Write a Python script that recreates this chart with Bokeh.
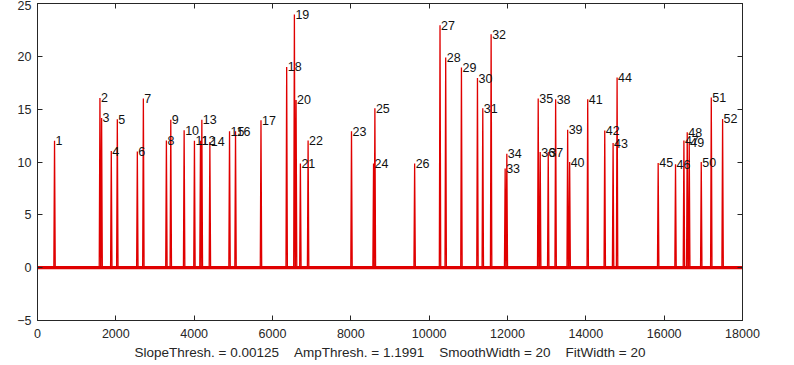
from bokeh.plotting import figure
from bokeh.models import LinearAxis, FixedTicker, Range1d, ColumnDataSource
from bokeh.embed import file_html
from bokeh.resources import INLINE
from bokeh.core.properties import value

# ---- data ----
peak_x = [435, 1594, 1637, 1884, 2038, 2549, 2703, 3291, 3403, 3744, 4007, 4161, 4196,
          4401, 4903, 5056, 5706, 6362, 6559, 6602, 6712, 6909, 8017, 8580, 8614, 9629,
          10277, 10422, 10824, 11233, 11369, 11582, 11940, 11983, 12784, 12835, 13040,
          13229, 13536, 13587, 14048, 14483, 14696, 14798, 15847, 16290, 16504, 16589,
          16640, 16947, 17203, 17492]
peak_h = [12.0, 16.06, 14.17, 11.04, 14.05, 11.0, 16.0, 12.04, 14.0, 13.0, 12.0, 12.0, 14.0,
          11.9, 12.9, 12.9, 13.95, 19.0, 23.96, 15.87, 9.85, 12.04, 12.92, 9.85, 15.08, 9.85,
          22.95, 19.88, 18.94, 17.94, 15.08, 22.08, 9.38, 10.79, 16.02, 10.94, 10.94,
          15.93, 13.05, 10.0, 15.93, 12.98, 11.79, 18.0, 9.91, 9.78, 12.04, 12.82,
          11.88, 10.0, 16.1, 14.08]
peak_labels = [str(i + 1) for i in range(len(peak_x))]
peak_halfwidth = 18
x_limits = [0, 18000]
y_limits = [-5, 25]
x_ticks = [0, 2000, 4000, 6000, 8000, 10000, 12000, 14000, 16000, 18000]
y_ticks = [-5, 0, 5, 10, 15, 20, 25]
slope_thresh = "0.00125"
amp_thresh = "1.1991"
smooth_width = "20"
fit_width = "20"

# trace built from the peak table
tx, ty = [x_limits[0]], [0]
for xc, h in zip(peak_x, peak_h):
    tx += [xc - peak_halfwidth, xc, xc + peak_halfwidth]
    ty += [0, h, 0]
tx.append(x_limits[1])
ty.append(0)

AX = "#262626"
RED = "#e00000"
FONT = "Liberation Sans"

p = figure(width=778, height=362, x_range=Range1d(*x_limits), y_range=Range1d(*y_limits),
           output_backend="svg", toolbar_location=None,
           min_border_left=37, min_border_right=36, min_border_top=3, min_border_bottom=41)
p.xgrid.visible = False
p.ygrid.visible = False
p.outline_line_color = AX
p.background_fill_color = "white"
p.border_fill_color = "white"

# baseline band and trace
p.line(x_limits, [0, 0], line_color=RED, line_width=3.2)
p.line(tx, ty, line_color=RED, line_width=1.3)

src = ColumnDataSource(dict(x=peak_x, y=peak_h, t=peak_labels))
p.text(x="x", y="y", text="t", source=src, text_font=value(FONT), text_font_size="12.5px",
       text_color="#111111", text_baseline="middle", text_align="left", x_offset=1, y_offset=0)

sep = "\u00a0\u00a0\u00a0\u00a0"
xlabel = (f"SlopeThresh. = {slope_thresh}{sep}AmpThresh. = {amp_thresh}{sep}"
          f"SmoothWidth = {smooth_width}{sep}FitWidth = {fit_width}")


def style(ax, ticks):
    ax.ticker = FixedTicker(ticks=ticks)
    ax.axis_line_color = AX
    ax.major_tick_line_color = AX
    ax.major_tick_in = 5
    ax.major_tick_out = 0
    ax.minor_tick_line_color = None
    ax.major_label_text_color = AX
    ax.major_label_text_font = FONT
    ax.major_label_text_font_size = "12.5px"


xb = p.below[0]
style(xb, x_ticks)
xb.major_label_standoff = 8
xb.axis_label = xlabel
xb.axis_label_text_font = FONT
xb.axis_label_text_font_size = "13.5px"
xb.axis_label_text_font_style = "normal"
xb.axis_label_text_color = AX
xb.axis_label_standoff = 4

yl = p.left[0]
style(yl, y_ticks)
yl.major_label_standoff = 6

for loc, ticks in (("above", x_ticks), ("right", y_ticks)):
    ax = LinearAxis()
    style(ax, ticks)
    ax.major_label_text_font_size = "0px"
    ax.major_label_standoff = 0
    ax.major_label_text_color = None
    p.add_layout(ax, loc)

open("out.html", "w").write(file_html(p, INLINE))
